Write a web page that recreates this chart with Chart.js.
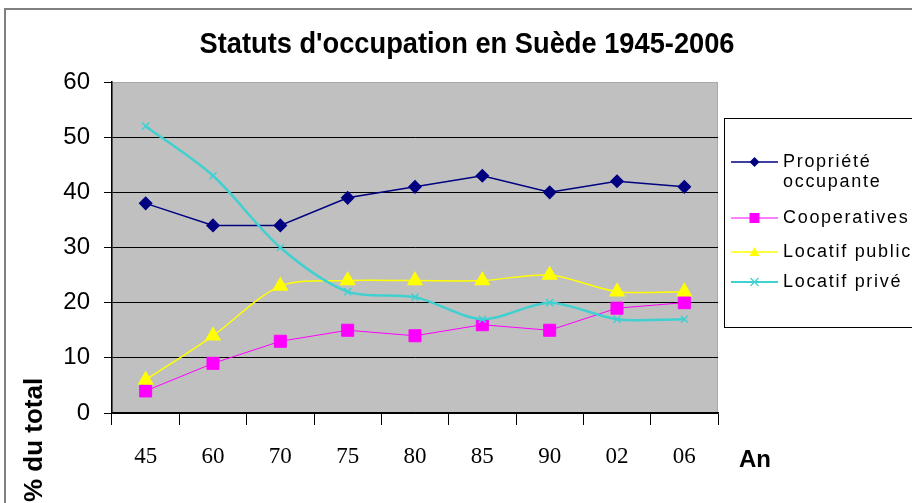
<!DOCTYPE html>
<html><head><meta charset="utf-8">
<script src="https://cdn.jsdelivr.net/npm/chart.js@4/dist/chart.umd.min.js"></script>
<style>html,body{margin:0;padding:0;background:#fff}#wrap{width:912px;height:503px;position:relative}</style>
</head><body><div id="wrap"><canvas id="c" width="912" height="503"></canvas></div>
<script>
const chartTitle = "Statuts d'occupation en Suède 1945-2006";
const categories = ['45','60','70','75','80','85','90','02','06'];
const seriesNames = [['Propriété','occupante'],['Cooperatives'],['Locatif public'],['Locatif privé']];
const proprieteOccupante = [38,34,34,39,41,43,40,42,41];
const cooperatives = [4,9,13,15,14,16,15,19,20];
const locatifPublic = [6,14,23,24,24,24,25,22,22];
const locatifPrive = [52,43,30,22,21,17,20,17,17];
const yTickValues = [0,10,20,30,40,50,60];
const yAxisTitle = '% du total';
const xAxisTitle = 'An';

const colors = ['#000080','#ff00ff','#ffff00','#40d0d0'];
const styles = ['rectRot','rect','triangle','crossRot'];

function drawMarker(ctx, style, x, y, r, color){
  ctx.save();
  ctx.fillStyle=color; ctx.strokeStyle=color; ctx.lineWidth=1;
  ctx.beginPath();
  if(style==='rectRot'){ ctx.moveTo(x,y-r); ctx.lineTo(x+r,y); ctx.lineTo(x,y+r); ctx.lineTo(x-r,y); ctx.closePath(); ctx.fill(); }
  else if(style==='rect'){ ctx.rect(x-r,y-r,2*r,2*r); ctx.fill(); }
  else if(style==='triangle'){ ctx.moveTo(x,y-r); ctx.lineTo(x+r,y+r*0.8); ctx.lineTo(x-r,y+r*0.8); ctx.closePath(); ctx.fill(); }
  else { ctx.lineWidth=1.2; ctx.moveTo(x-r,y-r); ctx.lineTo(x+r,y+r); ctx.moveTo(x+r,y-r); ctx.lineTo(x-r,y+r); ctx.stroke(); }
  ctx.restore();
}

const deco = {
  id:'deco',
  beforeDraw(chart){
    const {ctx, chartArea:a} = chart;
    ctx.save();
    ctx.fillStyle='#fff'; ctx.fillRect(0,0,chart.width,chart.height);
    ctx.strokeStyle='#808080'; ctx.lineWidth=2; ctx.strokeRect(5,9,940,540);
    ctx.fillStyle='#c0c0c0'; ctx.fillRect(a.left,a.top,a.right-a.left,a.bottom-a.top);
    ctx.strokeStyle='#a8a8a8'; ctx.lineWidth=1; ctx.strokeRect(a.left+0.5,a.top+0.5,a.right-a.left-1,a.bottom-a.top-1);
    ctx.restore();
  },
  afterDraw(chart){
    const ctx = chart.ctx;
    ctx.save();
    // title
    ctx.fillStyle='#000';
    ctx.font='bold 28px "Liberation Sans", Arial, sans-serif';
    ctx.textAlign='center'; ctx.textBaseline='middle';
    const w = ctx.measureText(chartTitle).width;
    const sx = 535/w;
    ctx.save(); ctx.translate(467,45); ctx.scale(sx,1.08); ctx.fillText(chartTitle,0,0); ctx.restore();
    // x axis title
    ctx.font='bold 24px "Liberation Sans", Arial, sans-serif';
    ctx.textAlign='left';
    ctx.fillText(xAxisTitle, 739, 460);
    // y axis title
    ctx.save(); ctx.translate(35,502); ctx.rotate(-Math.PI/2);
    ctx.font='bold 26px "Liberation Sans", Arial, sans-serif';
    ctx.textAlign='left'; ctx.textBaseline='middle';
    ctx.fillText(yAxisTitle,0,0); ctx.restore();
    // legend
    ctx.strokeStyle='#000'; ctx.lineWidth=1;
    ctx.strokeRect(724.5,118.5,200,209);
    const ys=[162,218,252,282];
    const lw=[1.5,1,1.5,2];
    const rr=[5,5,5,4];
    ctx.font='18px "Liberation Sans", Arial, sans-serif';
    try{ ctx.letterSpacing='1.7px'; }catch(e){}
    ctx.textAlign='left'; ctx.textBaseline='middle';
    for(let i=0;i<4;i++){
      const y=ys[i];
      ctx.strokeStyle=colors[i]; ctx.lineWidth=lw[i];
      ctx.beginPath(); ctx.moveTo(731,y); ctx.lineTo(778,y); ctx.stroke();
      drawMarker(ctx, styles[i], 754.5, y, rr[i], colors[i]);
      ctx.fillStyle='#000';
      seriesNames[i].forEach((t,k)=>ctx.fillText(t,783,y+k*20));
    }
    ctx.restore();
  }
};

const mk = (i, data, extra) => Object.assign({
  label: seriesNames[i].join(' '), data,
  borderColor: colors[i], backgroundColor: colors[i],
  pointStyle: styles[i], pointBorderColor: colors[i], pointBackgroundColor: colors[i],
  fill:false
}, extra);

new Chart(document.getElementById('c'), {
  type:'line',
  data:{
    labels: categories,
    datasets:[
      mk(0, proprieteOccupante, {borderWidth:1.5, pointRadius:6, tension:0, order:3}),
      mk(1, cooperatives, {borderWidth:1, pointRadius:8.5, tension:0, order:2}),
      mk(2, locatifPublic, {borderWidth:1.5, pointRadius:8, tension:0.3, order:1}),
      mk(3, locatifPrive, {borderWidth:2.5, pointRadius:5, pointBorderWidth:1.5, tension:0.3, order:0})
    ]
  },
  options:{
    responsive:false, animation:false, devicePixelRatio:1,
    layout:{padding:{top:82,right:194,bottom:0,left:0}},
    plugins:{legend:{display:false}, title:{display:false}, tooltip:{enabled:false}},
    scales:{
      x:{
        offset:true,
        grid:{offset:true, drawOnChartArea:false, drawTicks:true, tickLength:12, tickColor:'#000', color:'#000'},
        border:{color:'#000', width:1.5},
        ticks:{color:'#000', padding:18, font:{family:'"Liberation Serif", "Times New Roman", serif', size:23}, maxRotation:0},
        afterFit(s){ s.height = 90; }
      },
      y:{
        min:0, max:60,
        afterBuildTicks(s){ s.ticks = yTickValues.map(v=>({value:v})); },
        grid:{color:(c)=> (c.tick && c.tick.value===60) ? 'rgba(0,0,0,0)' : '#000', tickColor:'#000', tickLength:8, lineWidth:1},
        border:{color:'#000', width:1.5},
        ticks:{color:'#000', padding:14, font:{family:'"Liberation Sans", Arial, sans-serif', size:24}},
        afterFit(s){ s.width = 112; }
      }
    }
  },
  plugins:[deco]
});
</script></body></html>
